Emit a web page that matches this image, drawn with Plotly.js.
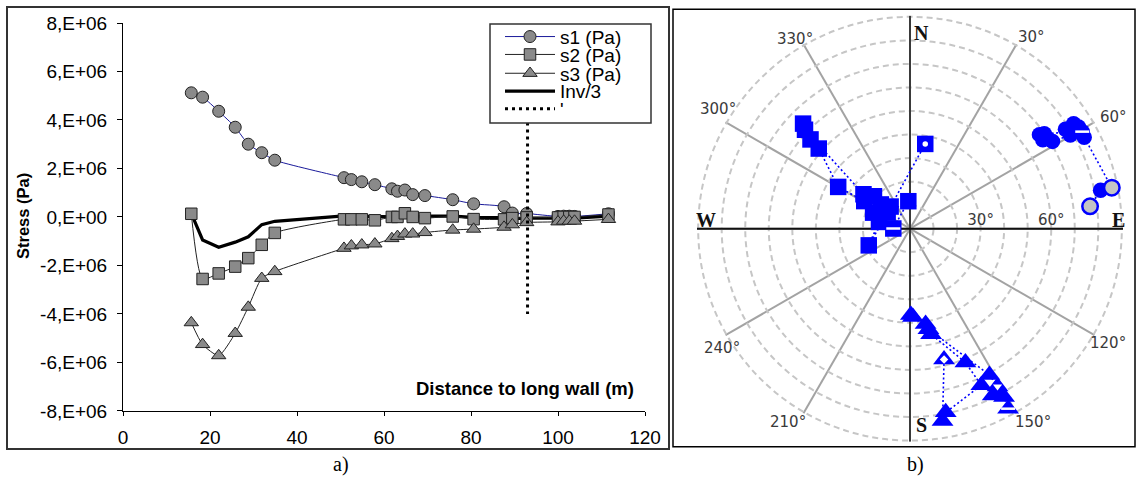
<!DOCTYPE html>
<html><head><meta charset="utf-8">
<script src="https://cdn.plot.ly/plotly-3.0.1.min.js"></script>
<style>html,body{margin:0;padding:0;background:#fff;} #chart{width:1139px;height:477px;}</style>
</head><body><div id="chart"></div>
<script>
// ---------- panel a) data ----------
const distance = [15.7, 18.3, 22.0, 25.8, 28.8, 31.9, 34.9, 50.8, 52.5, 54.9, 57.9, 61.8, 63.1, 64.8, 66.6, 69.4, 75.8, 80.6, 87.6, 89.5, 92.8, 100.0, 101.3, 102.6, 103.8, 111.6];
const s1 = [5.12e6, 4.94e6, 4.36e6, 3.70e6, 3.00e6, 2.65e6, 2.34e6, 1.62e6, 1.54e6, 1.45e6, 1.33e6, 1.16e6, 1.06e6, 1.11e6, 0.92e6, 0.88e6, 0.71e6, 0.54e6, 0.42e6, 0.16e6, 0.14e6, 0.02e6, 0.03e6, 0.03e6, 0.02e6, 0.13e6];
const s2 = [0.13e6, -2.56e6, -2.33e6, -2.05e6, -1.70e6, -1.15e6, -0.66e6, -0.10e6, -0.10e6, -0.10e6, -0.14e6, 0.00e6, 0.00e6, 0.15e6, 0.00e6, -0.05e6, 0.02e6, -0.09e6, -0.10e6, -0.05e6, -0.02e6, -0.02e6, 0.00e6, 0.00e6, 0.00e6, 0.10e6];
const s3 = [-4.36e6, -5.26e6, -5.72e6, -4.80e6, -3.72e6, -2.53e6, -2.25e6, -1.29e6, -1.19e6, -1.15e6, -1.11e6, -0.89e6, -0.80e6, -0.70e6, -0.70e6, -0.64e6, -0.54e6, -0.50e6, -0.42e6, -0.32e6, -0.23e6, -0.20e6, -0.17e6, -0.17e6, -0.17e6, -0.10e6];
const inv3 = [0.15e6, -0.95e6, -1.25e6, -1.04e6, -0.82e6, -0.32e6, -0.18e6, 0.04e6, 0.03e6, 0.02e6, 0.01e6, 0.02e6, 0.00e6, 0.04e6, 0.00e6, 0.03e6, 0.03e6, -0.02e6, -0.03e6, -0.07e6, -0.05e6, -0.05e6, -0.05e6, -0.05e6, -0.05e6, 0.03e6];
const cutX = [93, 93];
const cutY = [3.9e6, -4.0e6];
const yTickVals = [-8e6, -6e6, -4e6, -2e6, 0, 2e6, 4e6, 6e6, 8e6];
const yTickText = ['-8,E+06', '-6,E+06', '-4,E+06', '-2,E+06', '0,E+00', '2,E+06', '4,E+06', '6,E+06', '8,E+06'];
const xTickVals = [0, 20, 40, 60, 80, 100, 120];

// ---------- panel b) data (azimuth in degrees, dip in degrees) ----------
const sqAz  = [10.2, 318.8, 309.8, 312.0, 301.1, 300.2, 311.3, 311.9, 314.5, 313.3, 306.5, 293.5, 282.3, 248.0, 305.7, 356.5, 270.7];
const sqDip = [36.6, 12.5, 16.1, 20.6, 22.7, 35.3, 51.6, 56.8, 63.7, 61.3, 24.6, 17.1, 13.5, 18.9, 11.7, 11.7, 7.1];
const sqMark = ['dot', '', '', '', '', '', '', '', '', '', '', '', '', '', '', '', 'minus'];
const ciAz  = [82.9, 78.6, 78.5, 62.3, 58.9, 57.3, 57.4, 59.7, 58.5, 56.8, 56.2, 54.0, 54.7, 60.6];
const ciDip = [77.1, 82.6, 87.5, 83.6, 83.6, 82.6, 78.4, 78.9, 71.0, 69.9, 67.9, 68.0, 69.9, 84.0];
const ciMark = ['grey', '', 'grey', '', '', '', '', '', '', '', '', '', '', 'minus'];
const trAz  = [165.4, 170.4, 169.0, 155.5, 157.5, 168.7, 170.7, 178.1, 179.4, 169.6, 151.5, 151.0, 153.6, 151.2, 150.8, 151.4];
const trDip = [57.4, 82.9, 79.5, 73.1, 61.5, 45.7, 41.0, 37.5, 36.7, 43.4, 70.7, 76.7, 79.1, 80.0, 81.9, 87.1];
const trMark = ['dot', '', '', '', '', '', '', '', '', '', '', 'vee', '', '', '', 'minus'];
const angTicks = [0, 30, 60, 90, 120, 150, 180, 210, 240, 270, 300, 330];
const radTicks = [10, 20, 30, 40, 50, 60, 70, 80, 90];
const radText = ['', '', '30°', '', '', '60°', '', '', ''];
// azimuth label texts placed round the net
const azLabels = ['330°', '30°', '60°', '300°', '120°', '150°', '210°', '240°'];
const compass = ['N', 'S', 'E', 'W'];

const W = 1139, H = 477;
const px = v => v / W;
const py = v => 1 - v / H;
const BLUE = '#0000ff';
const GREY = '#8a8a8a';

const traces = [];
// panel a
traces.push({type:'scatter', x:distance, y:inv3, mode:'lines', name:'Inv/3', legend:'legend4',
  line:{color:'#000', width:3.2}});
traces.push({type:'scatter', x:distance, y:s1, mode:'lines+markers', name:'s1 (Pa)', legend:'legend',
  line:{color:'#1a1a9a', width:1, shape:'spline', smoothing:0.6},
  marker:{symbol:'circle', size:12, color:GREY, line:{color:'#222', width:1}}});
traces.push({type:'scatter', x:distance, y:s2, mode:'lines+markers', name:'s2 (Pa)', legend:'legend2',
  line:{color:'#222', width:1, shape:'spline', smoothing:0.6},
  marker:{symbol:'square', size:11.5, color:GREY, line:{color:'#222', width:1}}});
traces.push({type:'scatter', x:distance, y:s3, mode:'lines+markers', name:'s3 (Pa)', legend:'legend3',
  line:{color:'#222', width:1, shape:'spline', smoothing:0.6},
  marker:{symbol:'triangle-up', size:12.5, color:GREY, line:{color:'#222', width:1}}});
traces.push({type:'scatter', x:cutX, y:cutY, mode:'lines', name:"'", legend:'legend5',
  line:{color:'#000', width:3, dash:'3px,4px'}});

// panel b
const pol = {type:'scatterpolar', subplot:'polar', showlegend:false, hoverinfo:'skip'};
traces.push(Object.assign({}, pol, {r:[90.5, 0, 90.5], theta:[0, 0, 180], mode:'lines', line:{color:'#3a3a3a', width:2}}));
traces.push(Object.assign({}, pol, {r:[90.5, 0, 90.5], theta:[270, 270, 90], mode:'lines', line:{color:'#111', width:2}}));
function group(az, dip, sym, size) {
  traces.push(Object.assign({}, pol, {r:dip, theta:az, mode:'lines', line:{color:BLUE, width:1.6, dash:'2px,2.5px'}}));
  traces.push(Object.assign({}, pol, {r:dip, theta:az, mode:'markers', marker:{symbol:sym, size:size, color:BLUE, line:{width:0}}}));
}
function overlay(az, dip, marks, key, marker) {
  const r = [], t = [];
  marks.forEach((m, i) => { if (m === key) { r.push(dip[i]); t.push(az[i]); } });
  if (r.length) traces.push(Object.assign({}, pol, {r:r, theta:t, mode:'markers', marker:marker}));
}
group(sqAz, sqDip, 'square', 16.5);
group(ciAz, ciDip, 'circle', 15.5);
group(trAz, trDip, 'triangle-up', 19);
overlay(sqAz, sqDip, sqMark, 'dot', {symbol:'circle', size:5.5, color:'#fff', line:{width:0}});
overlay(sqAz, sqDip, sqMark, 'minus', {symbol:'line-ew', size:10, line:{color:'#fff', width:2.5}});
overlay(ciAz, ciDip, ciMark, 'grey', {symbol:'circle', size:15.5, color:'#c4c4c4', line:{color:BLUE, width:2.5}});
overlay(ciAz, ciDip, ciMark, 'minus', {symbol:'line-ew', size:10, line:{color:'#fff', width:2.5}});
overlay(trAz, trDip, trMark, 'dot', {symbol:'diamond', size:6.5, color:'#fff', line:{width:0}});
overlay(trAz, trDip, trMark, 'vee', {symbol:'triangle-down', size:8, color:'#fff', line:{width:0}});
overlay(trAz, trDip, trMark, 'minus', {symbol:'line-ew', size:10, line:{color:'#fff', width:2.5}});

const legY = [36.7, 54.6, 73.4, 91.2, 109];
function leg(i) {
  return {x:px(500), xanchor:'left', y:py(legY[i]), yanchor:'middle', bgcolor:'rgba(0,0,0,0)',
    borderwidth:0, font:{size:19, family:'Liberation Sans, Arial, sans-serif', color:'#000'}, itemwidth:50};
}
const R = 213, CX = 910, CY = 228.7;
const serif = 'Liberation Serif, Times New Roman, serif';
const azPos = [[795, 39], [1031.7, 37], [1113, 117], [718, 109], [1108, 343], [1033, 422], [788, 422], [722, 348]];
const cpPos = [[921, 32.7], [921, 425], [1118.5, 220], [706.5, 220]];
const annotations = [
  {text:'<b>Stress (Pa)</b>', xref:'paper', yref:'paper', x:px(23), y:py(216), textangle:-90, showarrow:false,
    xanchor:'center', yanchor:'middle', font:{size:16.5}},
  {text:'<b>Distance to long wall (m)</b>', xref:'paper', yref:'paper', x:px(636), y:py(388), showarrow:false,
    xanchor:'right', yanchor:'middle', font:{size:18.5}},
  {text:'a)', xref:'paper', yref:'paper', x:px(341), y:py(464), showarrow:false, xanchor:'center', yanchor:'middle',
    font:{family:serif, size:20}},
  {text:'b)', xref:'paper', yref:'paper', x:px(915), y:py(464), showarrow:false, xanchor:'center', yanchor:'middle',
    font:{family:serif, size:20}}
];
azLabels.forEach((t, i) => annotations.push({text:t, xref:'paper', yref:'paper', x:px(azPos[i][0]), y:py(azPos[i][1]),
  showarrow:false, xanchor:'center', yanchor:'middle', font:{family:'DejaVu Sans', size:15, color:'#3a3a3a'}}));
compass.forEach((t, i) => annotations.push({text:'<b>' + t + '</b>', xref:'paper', yref:'paper', x:px(cpPos[i][0]), y:py(cpPos[i][1]),
  showarrow:false, xanchor:'center', yanchor:'middle', font:{family:serif, size:20, color:'#111'}}));

const layout = {
  width:W, height:H, margin:{l:0, r:0, t:0, b:0}, paper_bgcolor:'#fff', plot_bgcolor:'#fff',
  font:{family:'Liberation Sans, Arial, sans-serif', color:'#000'},
  showlegend:true,
  legend:leg(0), legend2:leg(1), legend3:leg(2), legend4:leg(3), legend5:leg(4),
  xaxis:{domain:[px(123), px(645)], range:[0, 120], tickvals:xTickVals, ticks:'outside', ticklen:4, tickcolor:'#000',
    showline:true, linecolor:'#000', linewidth:1, showgrid:false, zeroline:false,
    tickfont:{size:19}, ticklabelstandoff:5},
  yaxis:{domain:[py(410.85), py(23)], range:[-8e6, 8e6], tickvals:yTickVals, ticktext:yTickText,
    ticks:'outside', ticklen:5, tickcolor:'#000', showline:true, linecolor:'#000', linewidth:1,
    showgrid:false, zeroline:false, tickfont:{size:19}, ticklabelstandoff:6},
  polar:{
    domain:{x:[px(CX - R), px(CX + R)], y:[py(CY + R), py(CY - R)]},
    bgcolor:'#fff',
    angularaxis:{rotation:90, direction:'clockwise', tickvals:angTicks, showticklabels:false, showline:false,
      ticks:'', gridcolor:'#a3a3a3', gridwidth:2},
    radialaxis:{range:[0, 90.5], tickvals:radTicks, ticktext:radText, showline:false, ticks:'',
      gridcolor:'#c6c6c6', gridwidth:2, griddash:'6px,4px', angle:0, tickangle:0, side:'counterclockwise',
      tickfont:{family:'DejaVu Sans', size:15, color:'#3a3a3a'}}
  },
  shapes:[
    {type:'rect', xref:'paper', yref:'paper', x0:px(7), x1:px(669), y0:py(449), y1:py(7), line:{color:'#333', width:2}, layer:'below'},
    {type:'rect', xref:'paper', yref:'paper', x0:px(673), x1:px(1135), y0:py(446.7), y1:py(9.3), line:{color:'#000', width:1.5}, layer:'below'},
    {type:'rect', xref:'paper', yref:'paper', x0:px(490), x1:px(651), y0:py(123), y1:py(24), line:{color:'#333', width:1.5}, fillcolor:'#fff', layer:'above'}
  ],
  annotations:annotations
};
Plotly.newPlot('chart', traces, layout, {displayModeBar:false, staticPlot:true});
</script>
</body></html>
